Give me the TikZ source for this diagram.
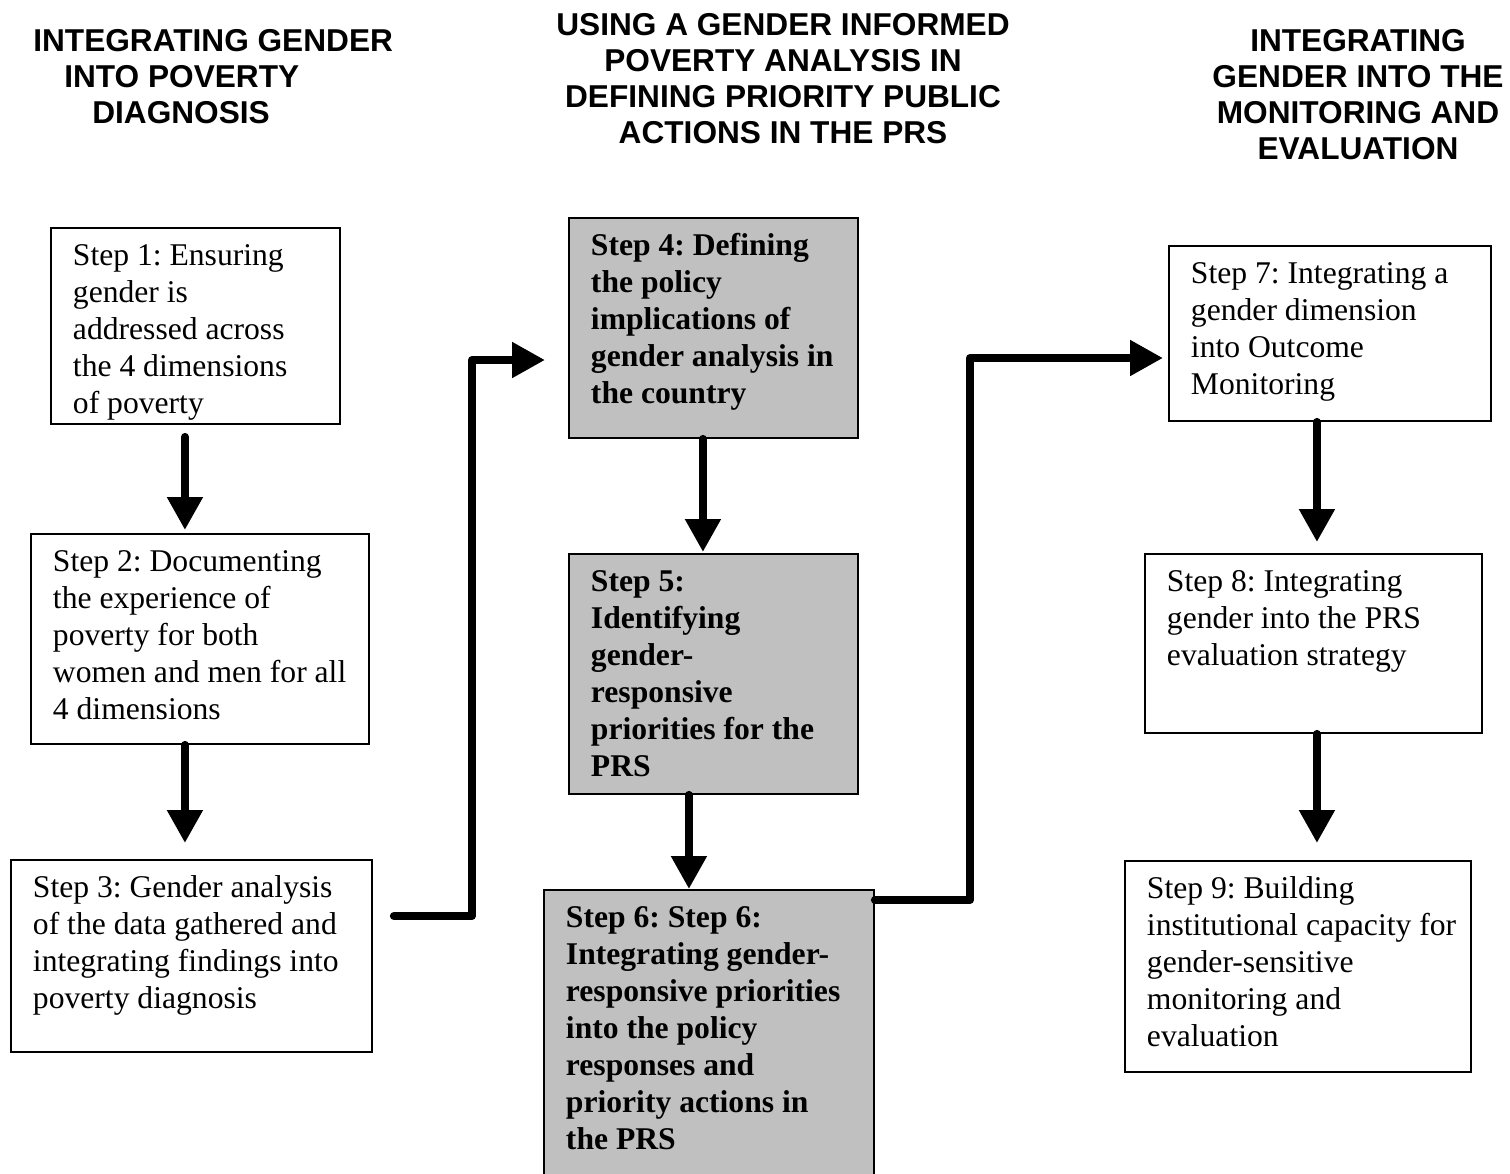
\documentclass[tikz,border=0pt]{standalone}
\usepackage{fontspec}
\setmainfont{Liberation Serif}
\newfontfamily\headfont{Liberation Sans}
\usetikzlibrary{arrows.meta}
\frenchspacing

\definecolor{stepgray}{RGB}{192,192,192}
\newcommand{\steptext}[3]{\parbox[c][#2][t]{#1}{\raggedright\strut #3}}

\begin{document}
\begin{tikzpicture}[x=0.02cm,y=-0.02cm,
    stepbox/.style={draw,line width=1.1pt,anchor=north west,inner xsep=0.44cm,inner ysep=0.24cm,
      font=\fontsize{18pt}{21pt}\selectfont},
    keybox/.style={stepbox,fill=stepgray,font=\fontsize{18pt}{21pt}\selectfont\bfseries},
    head/.style={inner sep=0pt,font=\headfont\fontsize{18pt}{20.5pt}\selectfont\bfseries},
    flow/.style={line width=0.16cm,line cap=round,line join=round,
      -{Triangle[length=0.66cm,width=0.68cm]}}]

  \useasboundingbox (0,0) rectangle (1510,1173);

  % column headings
  \node (h1) [head,anchor=north west,align=left] at (33,29)
    {INTEGRATING GENDER\\ \hspace*{0.62cm}INTO POVERTY\\ \hspace*{1.18cm}DIAGNOSIS};
  \node (h2) [head,anchor=north,align=center] at (783,13)
    {USING A GENDER INFORMED\\ POVERTY ANALYSIS IN\\ DEFINING PRIORITY PUBLIC\\ ACTIONS IN THE PRS};
  \node (h3) [head,anchor=north,align=center] at (1358,29)
    {INTEGRATING\\ GENDER INTO THE\\ MONITORING AND\\ EVALUATION};

  % diagnosis
  \node (b1) [stepbox] at (50,227) {\steptext{4.9cm}{3.44cm}{Step 1: Ensuring\\ gender is\\ addressed across\\ the 4 dimensions\\ of poverty}};
  \node (b2) [stepbox] at (30,533) {\steptext{5.88cm}{3.72cm}{Step 2: Documenting\\ the experience of\\ poverty for both\\ women and men for all\\ 4 dimensions}};
  \node (b3) [stepbox] at (10,859) {\steptext{6.34cm}{3.36cm}{Step 3: Gender analysis\\ of the data gathered and\\ integrating findings into\\ poverty diagnosis}};

  % priority public actions
  \node (b4) [keybox] at (568,217) {\steptext{4.9cm}{3.92cm}{Step 4: Defining\\ the policy\\ implications of\\ gender analysis in\\ the country}};
  \node (b5) [keybox] at (568,553) {\steptext{4.9cm}{4.32cm}{Step 5:\\ Identifying\\ gender-\\ responsive\\ priorities for the\\ PRS}};
  \node (b6) [keybox] at (543,889) {\steptext{5.72cm}{5.54cm}{Step 6: Step 6:\\ Integrating gender-\\ responsive priorities\\ into the policy\\ responses and\\ priority actions in\\ the PRS}};

  % monitoring and evaluation
  \node (b7) [stepbox] at (1168,245) {\steptext{5.56cm}{3.02cm}{Step 7: Integrating a\\ gender dimension\\ into Outcome\\ Monitoring}};
  \node (b8) [stepbox] at (1144,553) {\steptext{5.86cm}{3.1cm}{Step 8: Integrating\\ gender into the PRS\\ evaluation strategy}};
  \node (b9) [stepbox] at (1124,860) {\steptext{6.04cm}{3.74cm}{Step 9: Building\\ \mbox{institutional capacity for}\\ gender-sensitive\\ monitoring and\\ evaluation}};

  \coordinate (k34) at (472,360);
  \coordinate (k67) at (970,358);

  \draw[flow,shorten <=0.24cm,shorten >=0.06cm] ([xshift=-0.21cm]b1.south) -- ([xshift=-0.21cm]b1.south |- b2.north);
  \draw[flow,shorten >=0.32cm] ([xshift=-0.3cm]b2.south) -- ([xshift=-0.3cm]b2.south |- b3.north);
  \draw[flow,shorten >=0.02cm] ([xshift=-0.21cm]b4.south) -- ([xshift=-0.21cm]b4.south |- b5.north);
  \draw[flow] ([xshift=-0.49cm]b5.south) -- ([xshift=-0.49cm]b5.south |- b6.north);
  \draw[flow,shorten >=0.22cm] ([xshift=-0.26cm]b7.south) -- ([xshift=-0.26cm]b7.south |- b8.north);
  \draw[flow,shorten >=0.34cm] ([xshift=0.07cm]b8.south) -- ([xshift=0.07cm]b8.south |- b9.north);

  \draw[flow,shorten >=0.46cm] ([xshift=0.42cm,yshift=-1.14cm]b3.north east) -| (k34) -- (k34 -| b4.west);
  \draw[flow,shorten >=0.1cm] ([yshift=-0.22cm]b6.north east) -| (k67) -- (k67 -| b7.west);
\end{tikzpicture}
\end{document}
